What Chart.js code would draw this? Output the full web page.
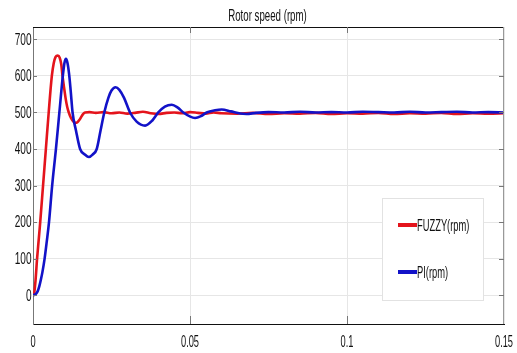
<!DOCTYPE html>
<html>
<head>
<meta charset="utf-8">
<script src="https://cdn.jsdelivr.net/npm/chart.js@4.4.1/dist/chart.umd.min.js"></script>
<style>
  body { margin: 0; background: #fff; }
</style>
</head>
<body>
<canvas id="chart" width="517" height="353"></canvas>
<script>
const chartTitle = "Rotor speed (rpm)";
const seriesLabels = ["FUZZY(rpm)", "PI(rpm)"];
const xTicks = [0, 0.05, 0.1, 0.15];
const yTicks = [0, 100, 200, 300, 400, 500, 600, 700];

// FUZZY response
const fuzzyTime = [0, 0.0003, 0.0008, 0.0013, 0.0018, 0.0023, 0.0032, 0.0041, 0.005, 0.006,
	0.0066, 0.0072, 0.0079, 0.0085, 0.009, 0.0094, 0.0099, 0.0104, 0.0109, 0.0114,
	0.0121, 0.0128, 0.0135, 0.0141, 0.0148, 0.0155, 0.016, 0.0166, 0.018, 0.02,
	0.0225, 0.025, 0.0275, 0.03, 0.0325, 0.035, 0.0375, 0.04, 0.0425, 0.045,
	0.0475, 0.05, 0.0525, 0.055, 0.0575, 0.06, 0.065, 0.07, 0.075, 0.08,
	0.085, 0.09, 0.095, 0.1, 0.105, 0.11, 0.115, 0.12, 0.125, 0.13,
	0.135, 0.14, 0.145, 0.15];
const fuzzySpeed = [0, 2, 40, 100, 150, 200, 300, 400, 500, 600,
	635, 652, 656, 650, 632, 600, 568, 538, 515, 500,
	485, 476, 472, 473, 480, 490, 496, 500, 501, 499,
	501, 498, 500, 497, 499, 502, 498, 496, 499, 500,
	498, 501, 499, 497, 500, 498, 497, 499, 496, 498,
	497, 499, 496, 498, 497, 499, 496, 498, 497, 499,
	496, 498, 497, 498];

// PI response
const piTime = [0, 0.0005, 0.001, 0.0015, 0.002, 0.0025, 0.003, 0.0037, 0.0044, 0.0051,
	0.0061, 0.0073, 0.0084, 0.0095, 0.01, 0.0105, 0.011, 0.0115, 0.012, 0.0126,
	0.0137, 0.015, 0.0165, 0.0178, 0.019, 0.0203, 0.0215, 0.0227, 0.024, 0.025,
	0.0263, 0.0275, 0.029, 0.0309, 0.033, 0.0357, 0.038, 0.0399, 0.042, 0.0442,
	0.046, 0.0479, 0.0498, 0.0516, 0.0535, 0.0553, 0.058, 0.0601, 0.063, 0.066,
	0.068, 0.071, 0.075, 0.08, 0.085, 0.09, 0.095, 0.1, 0.105, 0.11,
	0.115, 0.12, 0.125, 0.13, 0.135, 0.14, 0.145, 0.15];
const piSpeed = [0, 1, 4, 11, 24, 42, 63, 100, 148, 200,
	300, 400, 500, 600, 635, 647, 635, 605, 560, 500,
	450, 400, 385, 378, 385, 400, 450, 500, 540, 560,
	569, 562, 540, 500, 475, 464, 478, 500, 516, 521,
	514, 500, 490, 485, 490, 500, 506, 508, 503, 497,
	496, 499, 501, 500, 502, 500, 501, 500, 502, 501,
	500, 502, 500, 501, 502, 500, 501, 500];

const toPoints = (xs, ys) => xs.map((x, i) => ({ x: x, y: ys[i] }));

const red = "rgb(228, 20, 28)";
const blue = "rgb(18, 18, 200)";
const textFont = "'Liberation Sans', Arial, sans-serif";

// narrow text like the matlab export: squeeze it sideways
function narrowText(ctx, text, x, y, size, sx, align) {
	ctx.save();
	ctx.translate(x, y);
	ctx.scale(sx, 1);
	ctx.font = size + "px " + textFont;
	ctx.textAlign = align;
	ctx.textBaseline = "middle";
	ctx.fillStyle = "#111";
	ctx.fillText(text, 0, 0);
	ctx.restore();
}

const framePlugin = {
	id: "frame",
	afterDraw(chart) {
		const ctx = chart.ctx;
		const a = chart.chartArea;
		const xs = chart.scales.x;
		const ys = chart.scales.y;
		ctx.save();
		// box lines
		ctx.lineWidth = 1;
		ctx.strokeStyle = "#111";
		ctx.beginPath();
		ctx.moveTo(a.left, a.top + 0.5);
		ctx.lineTo(a.right, a.top + 0.5);
		ctx.stroke();
		ctx.strokeStyle = "#999";
		ctx.beginPath();
		ctx.moveTo(a.right - 0.5, a.top);
		ctx.lineTo(a.right - 0.5, a.bottom);
		ctx.stroke();
		// inner ticks
		ctx.strokeStyle = "#777";
		ctx.beginPath();
		yTicks.forEach(v => {
			const y = Math.round(ys.getPixelForValue(v)) + 0.5;
			ctx.moveTo(a.left, y); ctx.lineTo(a.left + 4, y);
			ctx.moveTo(a.right - 5, y); ctx.lineTo(a.right, y);
		});
		xTicks.slice(1, -1).forEach(v => {
			const x = Math.round(xs.getPixelForValue(v)) + 0.5;
			ctx.moveTo(x, a.top); ctx.lineTo(x, a.top + 6);
			ctx.moveTo(x, a.bottom); ctx.lineTo(x, a.bottom - 8);
		});
		ctx.stroke();

		// tick labels
		yTicks.forEach(v => {
			narrowText(ctx, String(v), a.left - 1.5, ys.getPixelForValue(v) + 1, 16, 0.63, "right");
		});
		xTicks.forEach(v => {
			narrowText(ctx, String(v), xs.getPixelForValue(v), a.bottom + 19, 16, 0.58, "center");
		});

		// title
		narrowText(ctx, chartTitle, (a.left + a.right) / 2 - 1, 16, 17, 0.57, "center");

		// legend box inside the plot
		const bx = 382, by = 198, bw = 101, bh = 102;
		ctx.fillStyle = "#fff";
		ctx.fillRect(bx, by, bw, bh);
		ctx.strokeStyle = "#e2e2e2";
		ctx.strokeRect(bx + 0.5, by + 0.5, bw, bh);
		const colors = [red, blue];
		const rows = [225, 272];
		seriesLabels.forEach((label, i) => {
			ctx.strokeStyle = colors[i];
			ctx.lineWidth = 4;
			ctx.beginPath();
			ctx.moveTo(398, rows[i]);
			ctx.lineTo(417, rows[i]);
			ctx.stroke();
			narrowText(ctx, label, 417, rows[i] + 1, 17, 0.55, "left");
		});
		ctx.restore();
	},
};

const chart = new Chart(document.getElementById("chart").getContext("2d"), {
	type: "line",
	data: {
		datasets: [
			{
				label: seriesLabels[0],
				data: toPoints(fuzzyTime, fuzzySpeed),
				borderColor: red,
				backgroundColor: red,
				borderWidth: 2.6,
				order: 1,
			},
			{
				label: seriesLabels[1],
				data: toPoints(piTime, piSpeed),
				borderColor: blue,
				backgroundColor: blue,
				borderWidth: 2.6,
				order: 0,
			},
		],
	},
	options: {
		responsive: false,
		animation: false,
		layout: { padding: { top: 27, right: 13, left: 0, bottom: 0 } },
		elements: {
			point: { radius: 0 },
			line: { cubicInterpolationMode: "monotone" },
		},
		scales: {
			x: {
				type: "linear",
				min: 0,
				max: 0.15,
				afterBuildTicks: scale => { scale.ticks = xTicks.map(v => ({ value: v })); },
				afterFit: scale => { scale.height = 29; },
				grid: { color: "#e6e6e6", drawTicks: false },
				border: { color: "#111", width: 1 },
				ticks: { display: false },
			},
			y: {
				min: -79,
				max: 734,
				afterBuildTicks: scale => { scale.ticks = yTicks.map(v => ({ value: v })); },
				afterFit: scale => { scale.width = 33; },
				grid: { color: "#e6e6e6", drawTicks: false },
				border: { color: "#777", width: 1 },
				ticks: { display: false },
			},
		},
		plugins: {
			legend: { display: false },
			title: { display: false },
			tooltip: { enabled: false },
		},
	},
	plugins: [framePlugin],
});
</script>
</body>
</html>
